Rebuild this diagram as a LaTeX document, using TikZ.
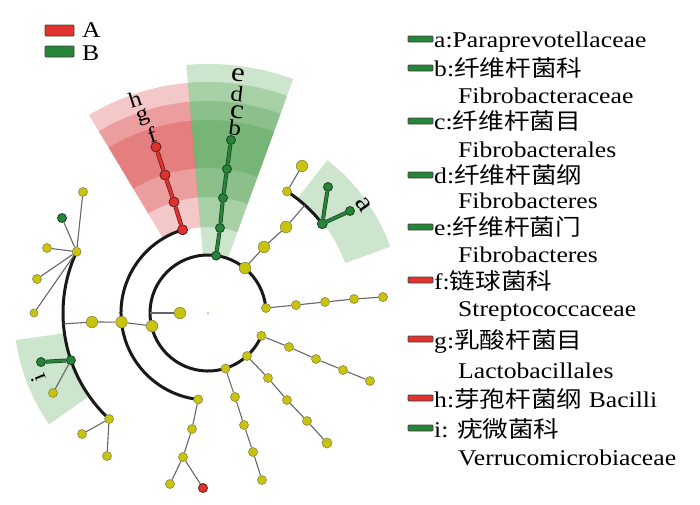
\documentclass[tikz,border=0pt]{standalone}
\usepackage{fontspec}
\setmainfont{Liberation Serif}[FakeStretch=1.14]
\newfontfamily\cjk{Noto Sans CJK SC}[FakeStretch=1.14]
\definecolor{yelc}{RGB}{200,196,14}
\definecolor{yelb}{RGB}{135,135,70}
\definecolor{grnc}{RGB}{38,133,56}
\definecolor{grnb}{RGB}{25,65,35}
\definecolor{redc}{RGB}{226,50,46}
\definecolor{redb}{RGB}{95,25,25}
\definecolor{grns}{RGB}{55,147,55}
\definecolor{reds}{RGB}{211,35,35}
% shaded ring piece: style, from angle, to angle, inner r, outer r
\newcommand{\clband}[5]{\fill[#1] (-#2:#4) arc[start angle=-#2, end angle=-#3, radius=#4] -- (-#3:#5) arc[start angle=-#3, end angle=-#2, radius=#5] -- cycle;}

\begin{document}
\begin{tikzpicture}[x=1pt, y=-1pt,
    yn/.style={circle, draw=yelb, fill=yelc, line width=.6pt, inner sep=0, minimum size=9pt},
    bn/.style={yn, minimum size=11.5pt},
    gn/.style={circle, draw=grnb, fill=grnc, line width=.8pt, inner sep=0, minimum size=9pt},
    rn/.style={circle, draw=redb, fill=redc, line width=.8pt, inner sep=0, minimum size=10pt},
    br/.style={draw=black!60, line width=1.1pt},
    arcl/.style={draw=black!90, line width=3pt},
    gl/.style={draw=grnb, line width=.7pt, double=grnc, double distance=2.6pt},
    rl/.style={draw=redb, line width=.7pt, double=redc, double distance=2.8pt},
    gs/.style={fill=grns, fill opacity=.25},
    rs/.style={fill=reds, fill opacity=.25},
    lt/.style={inner sep=0, font=\fontsize{22}{22}\selectfont},
    ltx/.style={inner sep=0, font=\fontsize{27}{27}\selectfont},
    lg/.style={inner sep=0, anchor=base west, font=\fontsize{22.5}{26}\selectfont},
    lgbox/.style={draw=black!75, line width=.8pt, rounded corners=1pt, inner sep=0, minimum width=25pt, minimum height=6pt}]
  \useasboundingbox (0,0) rectangle (700,504);

  % shaded clades
  \begin{scope}[shift={(208,313)}]
    \clband{gs}{95}{70}{57}{249}
    \clband{gs}{95}{70}{86}{231}
    \clband{gs}{95}{70}{116}{212}
    \clband{gs}{95}{70}{145}{193}
    \clband{rs}{121}{95}{86}{231}
    \clband{rs}{121}{95}{116}{212}
    \clband{rs}{121}{95}{145}{193}
    \clband{gs}{52}{20}{146}{194}
    \clband{gs}{215}{188}{146}{194}
  \end{scope}

  \node[circle, fill=yelc, inner sep=0, minimum size=2pt] (c) at (208,313) {};

  % arcs
  \draw[arcl] (c) ++(-5:58) arc[start angle=-5, end angle=-337, radius=58];
  \draw[arcl] (c) ++(-107:87) arc[start angle=-107, end angle=-263.5, radius=87];
  \draw[arcl] (c) ++(-155:145) arc[start angle=-155, end angle=-227, radius=145];
  \draw[arcl] (c) ++(-57:145) arc[start angle=-57, end angle=-38, radius=145];

  \coordinate (q0) at (150,313);
  \coordinate (ja) at (305,205);
  \coordinate (jl) at (63.4,323.9);

  % inner ring
  \node[yn] (y1) at (266,308) {};
  \node[bn] (y2) at (245,268) {};
  \node[bn] (y3) at (152,326) {};
  \node[yn] (y4) at (225.5,368.5) {};
  \node[yn] (y5) at (247,356) {};
  \node[yn] (y6) at (261.4,335.8) {};
  \node[bn] (y7) at (180,313) {};
  \node[gn] (e) at (216.1,255.6) {};

  \node[yn] (y8) at (296,305) {};
  \node[yn] (y9) at (325,302) {};
  \node[yn] (y10) at (354,299) {};
  \node[yn] (y11) at (383,297) {};
  \node[bn] (y12) at (264,247) {};
  \node[bn] (y13) at (286,227) {};
  \node[yn] (y14) at (287,191.4) {};
  \node[bn] (y15) at (302,166) {};
  \node[gn, minimum size=10pt] (a) at (322.3,223.7) {};
  \node[gn] (a1) at (328,187) {};
  \node[gn] (a2) at (350,211) {};

  \node[gn] (d) at (220,228) {};
  \node[gn] (cc) at (223,198) {};
  \node[gn] (b) at (227,169) {};
  \node[gn] (b1) at (231,140) {};

  \node[rn] (h) at (182.6,229.8) {};
  \node[rn] (g) at (174,202) {};
  \node[rn] (f) at (165,175) {};
  \node[rn] (f1) at (156,147) {};

  \node[bn] (y16) at (121.5,322.1) {};
  \node[yn] (y17) at (198.2,399.4) {};
  \node[bn] (y18) at (92,322) {};

  \node[yn] (y19) at (76.6,251.7) {};
  \node[gn] (i) at (70.9,360.2) {};
  \node[yn] (y20) at (109.1,419) {};
  \node[yn] (y21) at (83,192) {};
  \node[gn] (l1) at (62,218) {};
  \node[yn] (y22) at (47,248) {};
  \node[yn] (y23) at (37,279) {};
  \node[yn, minimum size=8pt] (y24) at (34,313) {};
  \node[gn] (i1) at (41,362) {};
  \node[yn] (y25) at (53,393) {};
  \node[yn] (y26) at (82,434) {};
  \node[yn] (y27) at (107,456) {};

  \node[yn] (y28) at (192,429) {};
  \node[yn] (y29) at (183,457) {};
  \node[yn] (y30) at (170,484) {};
  \node[rn, minimum size=9pt] (r5) at (203,488) {};

  \node[yn] (y31) at (235,397) {};
  \node[yn] (y32) at (244,425) {};
  \node[yn] (y33) at (253,452) {};
  \node[yn] (y34) at (262,480) {};
  \node[yn] (y35) at (268,378) {};
  \node[yn] (y36) at (287,400) {};
  \node[yn] (y37) at (307,421) {};
  \node[yn, minimum size=10pt] (y38) at (327,443) {};
  \node[yn] (y39) at (289,347) {};
  \node[yn] (y40) at (316,359) {};
  \node[yn] (y41) at (343,370) {};
  \node[yn] (y42) at (370,381) {};

  % branches
  \draw[br] (q0) -- (y7);
  \draw[br] (y1) -- (y8);
  \draw[br] (y8) -- (y9);
  \draw[br] (y9) -- (y10);
  \draw[br] (y10) -- (y11);
  \draw[br] (y2) -- (y12);
  \draw[br] (y12) -- (y13);
  \draw[br] (y13) -- (ja);
  \draw[br] (y14) -- (y15);
  \draw[gl] (a) -- (a1);
  \draw[gl] (a) -- (a2);
  \draw[gl] (e) -- (d);
  \draw[gl] (d) -- (cc);
  \draw[gl] (cc) -- (b);
  \draw[gl] (b) -- (b1);
  \draw[rl] (h) -- (g);
  \draw[rl] (g) -- (f);
  \draw[rl] (f) -- (f1);
  \draw[br] (y3) -- (y16);
  \draw[br] (y16) -- (y18);
  \draw[br] (y18) -- (jl);
  \draw[br] (y19) -- (y21);
  \draw[br] (y19) -- (l1);
  \draw[br] (y19) -- (y22);
  \draw[br] (y19) -- (y23);
  \draw[br] (y19) -- (y24);
  \draw[gl] (i) -- (i1);
  \draw[br] (i) -- (y25);
  \draw[br] (y20) -- (y26);
  \draw[br] (y20) -- (y27);
  \draw[br] (y17) -- (y28);
  \draw[br] (y28) -- (y29);
  \draw[br] (y29) -- (y30);
  \draw[br] (y29) -- (r5);
  \draw[br] (y4) -- (y31);
  \draw[br] (y31) -- (y32);
  \draw[br] (y32) -- (y33);
  \draw[br] (y33) -- (y34);
  \draw[br] (y5) -- (y35);
  \draw[br] (y35) -- (y36);
  \draw[br] (y36) -- (y37);
  \draw[br] (y37) -- (y38);
  \draw[br] (y6) -- (y39);
  \draw[br] (y39) -- (y40);
  \draw[br] (y40) -- (y41);
  \draw[br] (y41) -- (y42);

  % clade letters
  \node[ltx, rotate=-7] (te) at (238,75) {e};
  \node[lt, rotate=-7] (td) at (237,94) {d};
  \node[ltx, rotate=-7] (tc) at (237,112) {c};
  \node[lt, rotate=-7] (tb) at (235,128) {b};
  \node[lt, rotate=18] (th) at (135,99) {h};
  \node[lt, rotate=18] (tg) at (143,117) {g};
  \node[lt, rotate=18] (tf) at (152,135) {f};
  \node[ltx, rotate=-55] (ta) at (363,205) {a};
  \node[lt, rotate=112] (ti) at (38,378) {i};

  % legend
  \node[lgbox, fill=redc, minimum width=29pt, minimum height=11pt] (kA) at (59.5,30.5) {};
  \node[lgbox, fill=grnc, minimum width=29pt, minimum height=11pt] (kB) at (59.5,51.5) {};
  \node[lg] (tA) at (82,37) {A};
  \node[lg] (tB) at (82,60) {B};

  \node[lgbox, fill=grnc] (k1) at (420.5,39) {};
  \node[lg] (n1) at (434,47) {a:Paraprevotellaceae};
  \node[lgbox, fill=grnc] (k2) at (420.5,68) {};
  \node[lg] (n2) at (434,76) {b:{\cjk 纤维杆菌科}};
  \node[lg] (n2b) at (458,103) {Fibrobacteraceae};
  \node[lgbox, fill=grnc] (k3) at (420.5,121) {};
  \node[lg] (n3) at (434,129) {c:{\cjk 纤维杆菌目}};
  \node[lg] (n3b) at (458,157) {Fibrobacterales};
  \node[lgbox, fill=grnc] (k4) at (420.5,175) {};
  \node[lg] (n4) at (434,183) {d:{\cjk 纤维杆菌纲}};
  \node[lg] (n4b) at (458,208) {Fibrobacteres};
  \node[lgbox, fill=grnc] (k5) at (420.5,227) {};
  \node[lg] (n5) at (434,235) {e:{\cjk 纤维杆菌门}};
  \node[lg] (n5b) at (458,262) {Fibrobacteres};
  \node[lgbox, fill=redc] (k6) at (420.5,280) {};
  \node[lg] (n6) at (434,289) {f:{\cjk 链球菌科}};
  \node[lg] (n6b) at (458,316) {Streptococcaceae};
  \node[lgbox, fill=redc] (k7) at (420.5,339) {};
  \node[lg] (n7) at (434,348) {g:{\cjk 乳酸杆菌目}};
  \node[lg] (n7b) at (458,378) {Lactobacillales};
  \node[lgbox, fill=redc] (k8) at (420.5,398) {};
  \node[lg] (n8) at (434,407) {h:{\cjk 芽孢杆菌纲} Bacilli};
  \node[lgbox, fill=grnc] (k9) at (420.5,428) {};
  \node[lg] (n9) at (434,437) {i: {\cjk 疣微菌科}};
  \node[lg] (n9b) at (458,465) {Verrucomicrobiaceae};
\end{tikzpicture}
\end{document}
